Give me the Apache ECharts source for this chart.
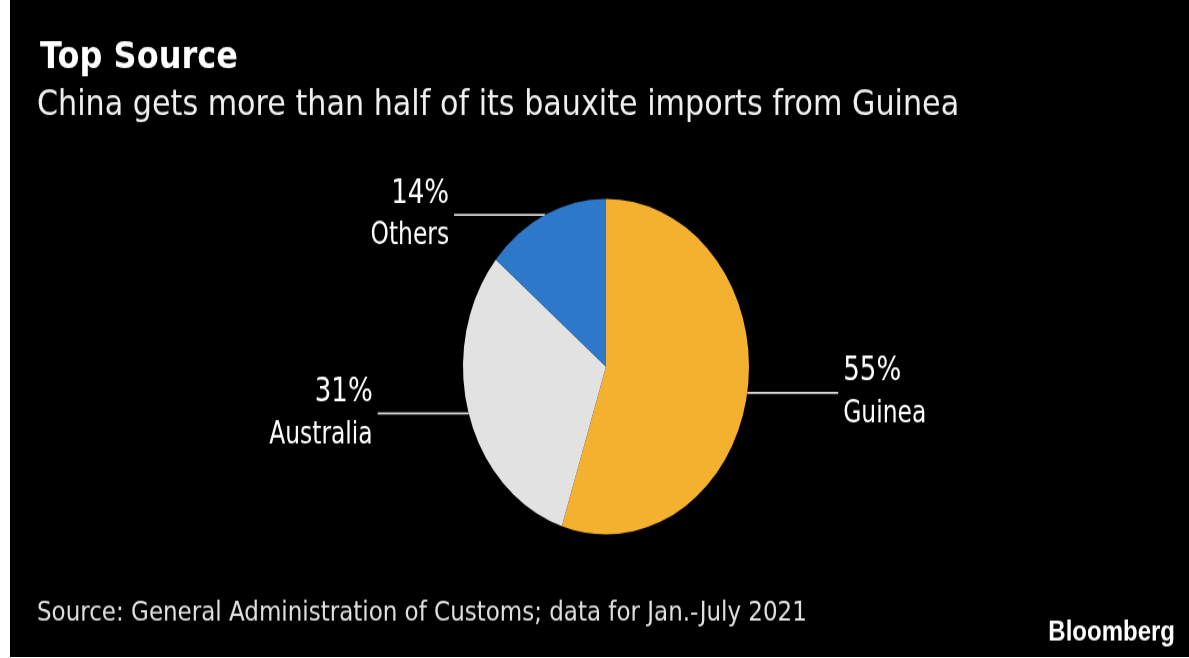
<!DOCTYPE html>
<html>
<head>
<meta charset="utf-8">
<script src="https://cdn.jsdelivr.net/npm/echarts@6/dist/echarts.min.js"></script>
<style>
    html, body {
        margin: 0;
        padding: 0;
        background: #fff;
        overflow: hidden;
    }
    /* the reference is stretched vertically, so the chart is drawn flat and scaled up */
    #bauxite {
        position: absolute;
        left: 10px;
        top: 0;
        width: 1179px;
        height: 560px;
        transform-origin: 0 0;
        transform: scaleY(1.1732);
    }
</style>
</head>
<body>
<div id="bauxite"></div>
<script>
const titleText = 'Top Source';
const subtitleText = 'China gets more than half of its bauxite imports from Guinea';
const sourceText = 'Source: General Administration of Customs; data for Jan.-July 2021';
const brandText = 'Bloomberg';

const sources = ['Guinea', 'Australia', 'Others'];
const shares = [55, 31, 14];

const narrowFont = "'Liberation Sans Narrow', 'DejaVu Sans Condensed', sans-serif";

let bauxiteChart = echarts.init(document.getElementById('bauxite'));

const options = {
    backgroundColor: '#000',
    animation: false,
    color: ['#f4b12f', '#e2e2e2', '#2e78c9'],
    title: [
        {
            text: titleText,
            left: 30,
            top: 30,
            padding: 0,
            textStyle: {
                color: '#fff',
                fontFamily: 'DejaVu Sans',
                fontWeight: 'bold',
                fontSize: 32,
                lineHeight: 40
            }
        },
        {
            text: subtitleText,
            left: 27,
            top: 72.5,
            padding: 0,
            textStyle: {
                color: '#f0f0f0',
                fontFamily: 'DejaVu Sans',
                fontWeight: 'normal',
                fontSize: 30.2,
                lineHeight: 36
            }
        },
        {
            text: sourceText,
            left: 27,
            top: 509,
            padding: 0,
            textStyle: {
                color: '#e0e0e0',
                fontFamily: 'DejaVu Sans',
                fontWeight: 'normal',
                fontSize: 23,
                lineHeight: 28
            }
        },
        {
            text: brandText,
            right: 14,
            top: 525,
            padding: 0,
            textStyle: {
                color: '#fff',
                fontFamily: 'Liberation Sans',
                fontWeight: 'bold',
                fontSize: 24,
                lineHeight: 28
            }
        }
    ],
    series: [
        {
            type: 'pie',
            center: [596, 312.5],
            radius: 143,
            startAngle: 90,
            clockwise: true,
            avoidLabelOverlap: false,
            itemStyle: {
                borderWidth: 0
            },
            emphasis: {
                disabled: true
            },
            label: {
                show: true,
                position: 'outside',
                distanceToLabelLine: 5,
                formatter: (p) => '{p|' + p.value + '%}\n{n|' + p.name + '}',
                rich: {
                    p: {
                        color: '#fff',
                        fontFamily: narrowFont,
                        fontSize: 29,
                        lineHeight: 37
                    },
                    n: {
                        color: '#fff',
                        fontFamily: narrowFont,
                        fontSize: 26,
                        lineHeight: 36
                    }
                }
            },
            labelLine: {
                show: true,
                length: 0,
                length2: 91,
                smooth: false,
                lineStyle: {
                    color: '#d8d8d8',
                    width: 1.8
                }
            },
            data: sources.map((name, i) => ({name: name, value: shares[i]}))
        }
    ]
};

bauxiteChart.setOption(options);
</script>
</body>
</html>
